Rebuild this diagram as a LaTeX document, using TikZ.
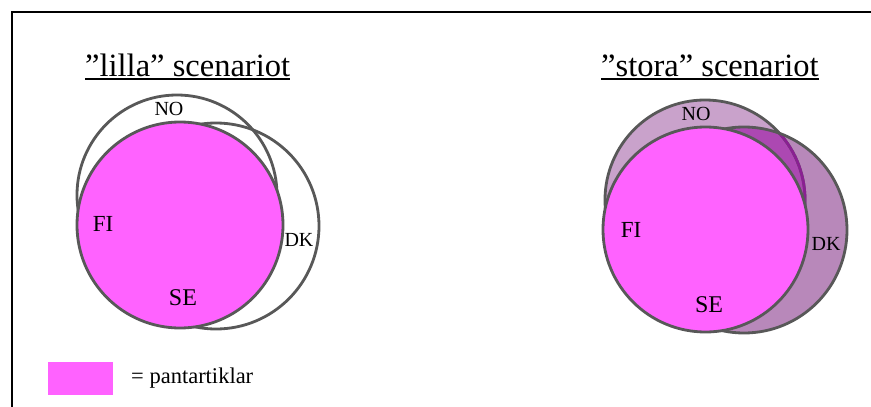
\documentclass[tikz,border=0pt]{standalone}
\usepackage{fontspec}
\setmainfont{Liberation Serif}
\definecolor{pantpink}{RGB}{255,98,255}
\definecolor{rimgray}{RGB}{88,88,88}
\definecolor{nofill}{RGB}{201,162,203}
\definecolor{dkfill}{RGB}{184,136,186}
\definecolor{bothfill}{RGB}{172,72,178}
\definecolor{tintline}{RGB}{138,32,146}
\begin{document}
\begin{tikzpicture}[x=1pt,y=-1pt,
  rim/.style={draw=rimgray,line width=2.8pt},
  heading/.style={anchor=base west,inner sep=0pt,font=\fontsize{32.5}{38}\selectfont},
  country/.style={inner sep=0pt,font=\fontsize{#1}{#1}\selectfont},
  country/.default=20]
\useasboundingbox (0,0) rectangle (871,407);

% frame (top and left edges)
\draw[line width=2pt] (12,407) -- (12,12) -- (871,12);

% ---------- small scenario ----------
\node[heading] (t1) at (85,76) {”lilla” scenariot};
\draw[line width=1.8pt] ([yshift=-3pt]t1.base west) -- ([yshift=-3pt]t1.base east);

\draw[rim] (177,195) circle (100);   % NO
\draw[rim] (216,226) circle (103);   % DK
\draw[rim,fill=pantpink] (180,225) circle (103); % FI + SE

\node[country=20] (no1) at (169,109) {NO};
\node[country=20] (dk1) at (299,240) {DK};
\node[country=23] (fi1) at (103,224) {FI};
\node[country=24] (se1) at (183,298) {SE};

% ---------- large scenario ----------
\node[heading] (t2) at (601,76) {”stora” scenariot};
\draw[line width=1.8pt] ([yshift=-3pt]t2.base west) -- ([yshift=-3pt]t2.base east);

\fill[nofill] (705,200) circle (100);
\fill[dkfill] (744,230) circle (103);
\begin{scope}
  \clip (705,200) circle (100);
  \fill[bothfill] (744,230) circle (103);
\end{scope}
\draw[rim] (705,200) circle (100);   % NO
\begin{scope}
  \clip (744,230) circle (103);
  \draw[draw=tintline,line width=2.8pt] (705,200) circle (100);
\end{scope}
\draw[rim] (744,230) circle (103);   % DK
\draw[rim,fill=pantpink] (705.5,229.5) circle (102.5); % FI + SE

\node[country=20] (no2) at (696,114) {NO};
\node[country=20] (dk2) at (826,244) {DK};
\node[country=23] (fi2) at (631,230) {FI};
\node[country=24] (se2) at (709,305) {SE};

% ---------- legend ----------
\node[fill=pantpink,minimum width=65pt,minimum height=33pt,inner sep=0pt] (key) at (80.5,378) {};
\node[anchor=west,inner sep=0pt,font=\fontsize{22.5}{26}\selectfont] (keytext) at (131,378) {= pantartiklar};
\end{tikzpicture}
\end{document}
